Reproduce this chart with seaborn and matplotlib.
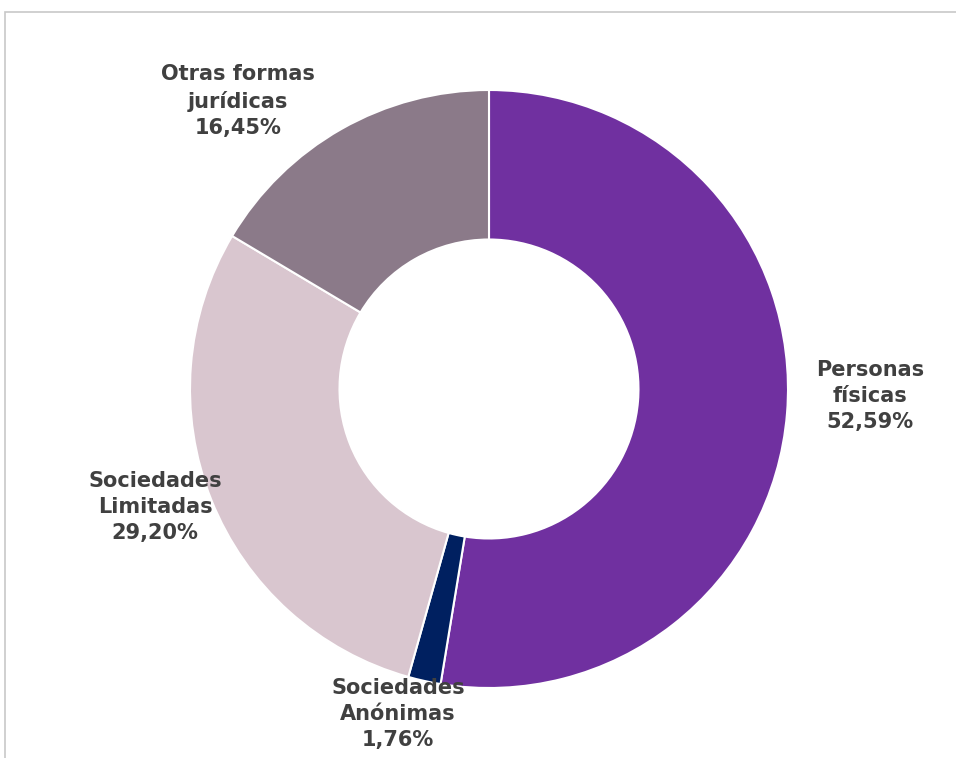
import matplotlib
matplotlib.use("Agg")
import matplotlib.pyplot as plt
import seaborn as sns
from matplotlib.patches import Rectangle

categories = ["Personas\nfísicas", "Sociedades\nAnónimas", "Sociedades\nLimitadas", "Otras formas\njurídicas"]
values = [52.59, 1.76, 29.20, 16.45]
value_labels = ["52,59%", "1,76%", "29,20%", "16,45%"]
colors = ["#7030A0", "#002060", "#D9C6CF", "#8B7A89"]

sns.set_theme(style="white")
plt.rcParams["font.family"] = ["DejaVu Sans"]

W, H = 956, 758
fig = plt.figure(figsize=(W / 100, H / 100), dpi=100)
ax = fig.add_axes([0, 0, 1, 1])

cx, cy, s = 489, 389, 299.0
def px(x, y):
    return ((x - cx) / s, (cy - y) / s)

ax.pie(values, colors=colors, startangle=90, counterclock=False, radius=1.0,
       wedgeprops=dict(width=0.5, edgecolor="white", linewidth=1.5))
ax.set_xlim(-cx / s, (W - cx) / s)
ax.set_ylim(-(H - cy) / s, cy / s)
ax.set_aspect("auto")
ax.axis("off")

label_pos = [(870, 396), (398, 714), (155, 507), (238, 101)]
for cat, vl, (x, y) in zip(categories, value_labels, label_pos):
    tx, ty = px(x, y)
    ax.text(tx, ty, f"{cat}\n{vl}", ha="center", va="center", fontsize=15,
            fontweight="bold", color="#404040", linespacing=1.4)

fig.patches.append(Rectangle((5 / W, -0.01), 1.0, 1 - 12 / H + 0.01, transform=fig.transFigure,
                             fill=False, edgecolor="#C8C8C8", linewidth=1.2))

fig.savefig("out.png", dpi=100, facecolor="white")
